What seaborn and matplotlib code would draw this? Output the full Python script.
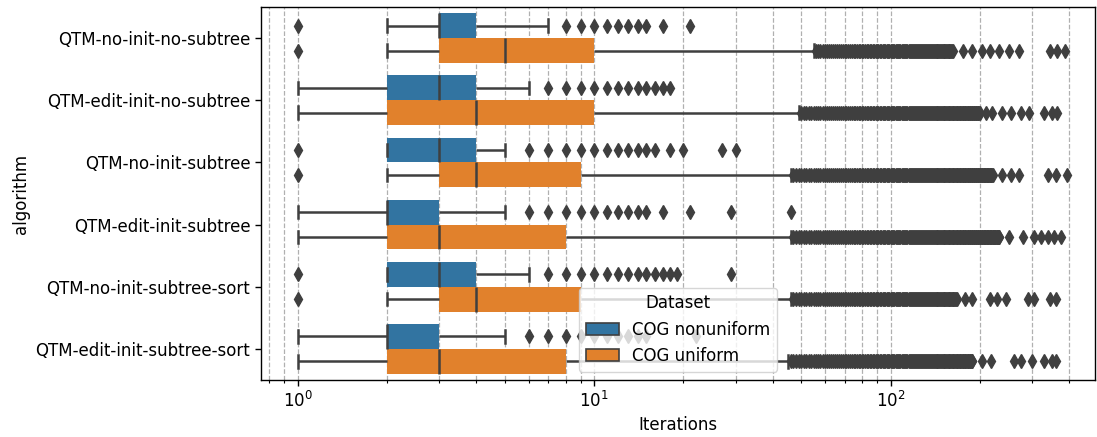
import numpy as np
import pandas as pd
import matplotlib
matplotlib.use("Agg")
import matplotlib.pyplot as plt
import seaborn as sns

# ---- data: iteration counts per algorithm and dataset ----
algorithms = [
    "QTM-no-init-no-subtree",
    "QTM-edit-init-no-subtree",
    "QTM-no-init-subtree",
    "QTM-edit-init-subtree",
    "QTM-no-init-subtree-sort",
    "QTM-edit-init-subtree-sort",
]
datasets = ["COG nonuniform", "COG uniform"]

# COG nonuniform: whisker ends, quartiles and median
nonuni_low = [2, 1, 2, 1, 2, 1]
nonuni_q1 = [3, 2, 2, 2, 2, 2]
nonuni_med = [3, 3, 3, 2, 3, 2]
nonuni_q3 = [4, 4, 4, 3, 4, 3]
nonuni_high = [7, 6, 5, 5, 6, 5]
nonuni_low_outliers = [[1], [], [1], [], [1], []]
nonuni_high_outliers = [
    [8, 9, 10, 11, 12, 13, 14, 15, 17, 21],
    [7, 8, 9, 10, 11, 12, 13, 14, 15, 16, 17, 18],
    [6, 7, 8, 9, 10, 11, 12, 13, 14, 15, 16, 18, 20, 27, 30],
    [6, 7, 8, 9, 10, 11, 12, 13, 14, 15, 17, 21, 29, 46],
    [7, 8, 9, 10, 11, 12, 13, 14, 15, 16, 17, 18, 19, 29],
    [6, 7, 8, 9, 10, 11, 12, 13, 14, 15, 22],
]

# COG uniform: whisker ends, quartiles and median
uni_low = [2, 1, 2, 1, 2, 1]
uni_q1 = [3, 2, 3, 2, 3, 2]
uni_med = [5, 4, 4, 3, 4, 3]
uni_q3 = [10, 10, 9, 8, 9, 8]
uni_high = [55, 49, 46, 46, 46, 45]
uni_low_outliers = [[1], [], [1], [], [1], []]
# every iteration count inside (first, last) occurs as an outlier
uni_outlier_runs = [(56, 162), (50, 200), (47, 221), (47, 233), (47, 167), (46, 189)]
uni_outlier_extra = [
    [176, 188, 203, 216, 233, 252, 272, 345, 366, 388],
    [210, 220, 238, 256, 276, 294, 330, 350, 366],
    [238, 255, 272, 339, 363, 394],
    [252, 279, 305, 322, 339, 357, 377],
    [178, 189, 216, 228, 245, 290, 305, 345, 363],
    [203, 218, 262, 276, 301, 330, 350, 363],
]

# runs per block: lower whisker, Q1, median, Q3, upper whisker
block_runs = [2000, 6000, 4000, 6000, 2000]


def runs(low, q1, med, q3, high, low_out, high_out):
    body = np.repeat([low, q1, med, q3, high], block_runs)
    return np.concatenate([np.asarray(low_out, float), body, np.asarray(high_out, float)])


frames = []
for i, alg in enumerate(algorithms):
    v = runs(nonuni_low[i], nonuni_q1[i], nonuni_med[i], nonuni_q3[i],
             nonuni_high[i], nonuni_low_outliers[i], nonuni_high_outliers[i])
    frames.append(pd.DataFrame({"algorithm": alg, "Dataset": datasets[0], "Iterations": v}))
    a, b = uni_outlier_runs[i]
    hi_out = list(range(a, b + 1)) + uni_outlier_extra[i]
    v = runs(uni_low[i], uni_q1[i], uni_med[i], uni_q3[i],
             uni_high[i], uni_low_outliers[i], hi_out)
    frames.append(pd.DataFrame({"algorithm": alg, "Dataset": datasets[1], "Iterations": v}))
df = pd.concat(frames, ignore_index=True)

# ---- figure ----
plt.rcParams.update({
    "font.size": 12,
    "axes.linewidth": 1.0,
    "xtick.major.size": 4.2, "xtick.major.width": 1.0,
    "xtick.minor.size": 2.4, "xtick.minor.width": 0.8,
    "ytick.major.size": 4.2, "ytick.major.width": 1.0,
})

fig = plt.figure(figsize=(10.97, 4.37), dpi=100)
ax = fig.add_axes([261 / 1097, 57 / 437, 834 / 1097, 373 / 437])

line_col = "#3f3f3f"
sns.boxplot(
    data=df, x="Iterations", y="algorithm", hue="Dataset",
    order=algorithms, hue_order=datasets,
    orient="h", log_scale=True, whis=(5, 95),
    linecolor=line_col, linewidth=1.5, fliersize=7,
    boxprops={"edgecolor": "none"},
    ax=ax,
)

# whiskers, caps and medians thicker; outliers as filled diamonds
for ln in ax.lines:
    if ln.get_marker() in (None, "None", "", " "):
        ln.set_linewidth(1.8)
        ln.set_color(line_col)
    else:
        ln.set_marker("d")
        ln.set_markersize(7.5)
        ln.set_markerfacecolor(line_col)
        ln.set_markeredgecolor(line_col)
        ln.set_markeredgewidth(1.0)

ax.set_xlim(0.75, 490)
# grid sits above the boxes but below whiskers, medians and outliers
ax.set_axisbelow("line")
ax.grid(True, which="both", axis="x", linestyle="--", color="#b0b0b0", linewidth=0.9)
ax.set_xlabel("Iterations", fontsize=12)
ax.set_ylabel("algorithm", fontsize=12)
ax.tick_params(axis="both", labelsize=12)

sns.move_legend(ax, "lower center", title="Dataset", fontsize=12, title_fontsize=12)
leg = ax.get_legend()
for h in leg.get_patches():
    h.set_edgecolor(line_col)
    h.set_linewidth(1.2)

fig.savefig("out.png", dpi=100)
